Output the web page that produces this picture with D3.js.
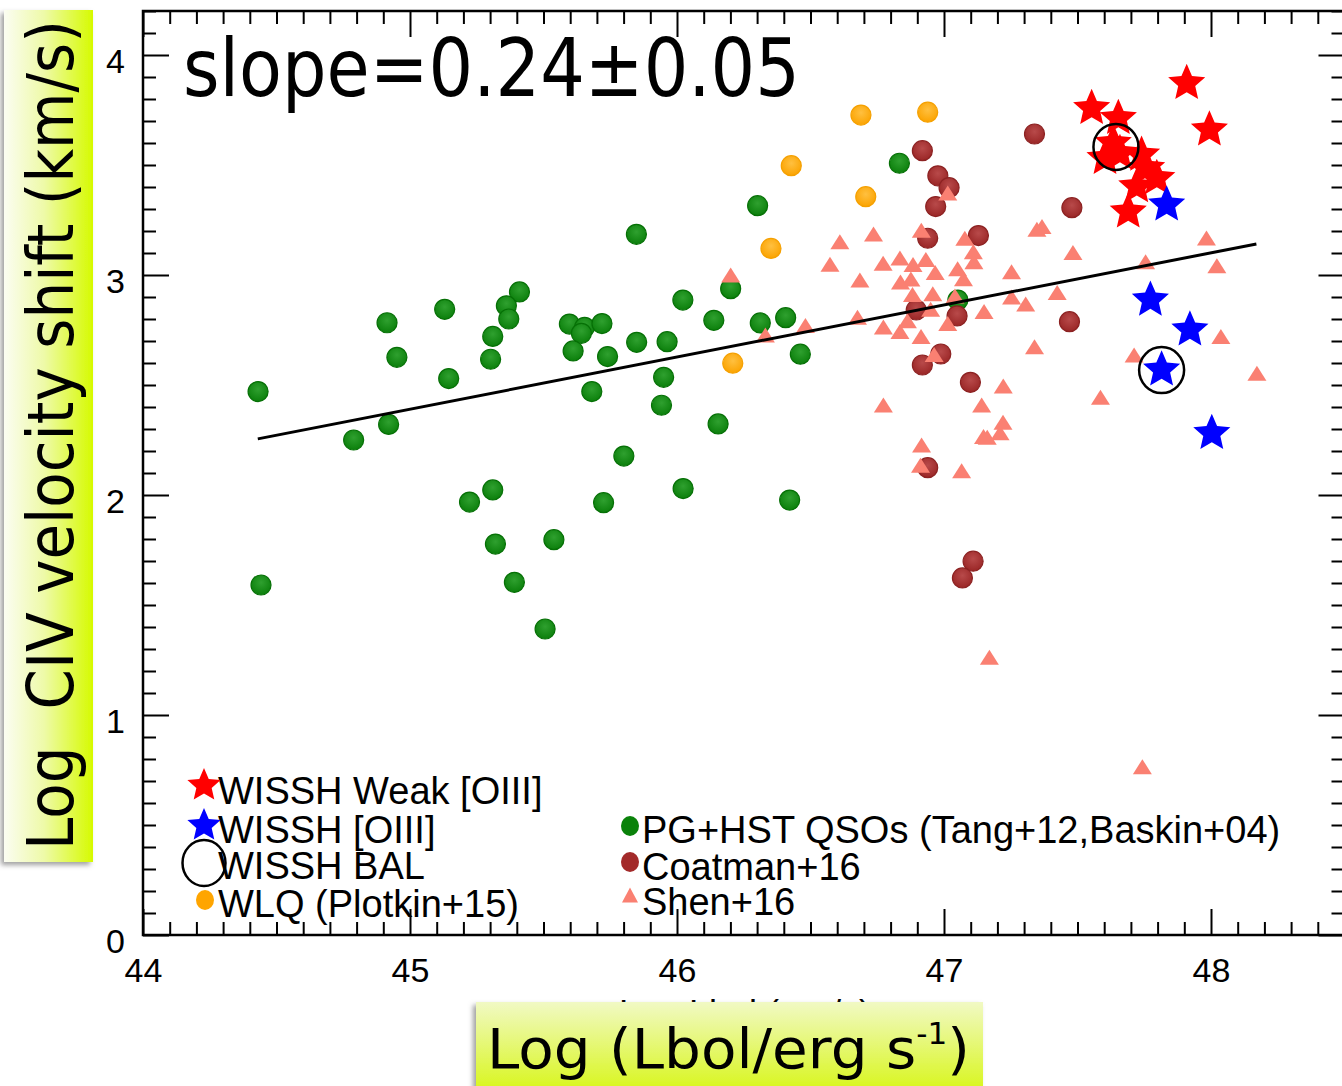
<!DOCTYPE html>
<html><head><meta charset="utf-8">
<script src="https://cdn.jsdelivr.net/npm/d3@7"></script>
<style>body{margin:0;background:#fff;} svg{display:block;}</style>
</head><body>
<svg id="c" width="1342" height="1086"></svg>
<script>
// ---------------- DATA ----------------
const xDomain = [44, 48.5];
const yDomain = [0, 4.2];
const xTickValues = [44, 45, 46, 47, 48];
const xTickLabels = ["44", "45", "46", "47", "48"];
const yTickValues = [0, 1, 2, 3, 4];
const yTickLabels = ["0", "1", "2", "3", "4"];

// PG+HST QSOs (Tang+12, Baskin+04)
const pgX = [45.848,45.410,45.361,45.370,45.130,44.914,44.951,45.310,45.302,45.145,44.431,46.022,45.597,45.654,45.642,45.719,45.611,45.740,45.849,45.963,45.950,45.681,45.942,44.920,44.789,45.801,46.023,45.310,45.223,45.725,45.539,45.320,45.391,44.442,45.506,46.833,46.302,46.201,46.138,46.312,46.407,46.462,47.052,46.154,46.422];
const pgY = [3.185,2.923,2.860,2.800,2.844,2.783,2.626,2.721,2.617,2.529,2.470,2.886,2.777,2.762,2.735,2.779,2.655,2.629,2.694,2.697,2.535,2.470,2.408,2.321,2.250,2.177,2.029,2.023,1.968,1.965,1.797,1.777,1.603,1.591,1.391,3.508,3.315,2.938,2.794,2.782,2.806,2.640,2.886,2.323,1.977];

// WLQ (Plotkin+15)
const wlqX = [46.689,46.939,46.428,46.707,46.352,46.209];
const wlqY = [3.727,3.740,3.497,3.356,3.121,2.599];

// Coatman+16
const coatX = [47.339,46.919,46.977,47.019,46.969,47.479,46.939,47.129,46.896,47.049,47.470,46.988,46.919,47.099,46.939,47.109,47.069];
const coatY = [3.641,3.565,3.451,3.397,3.311,3.306,3.167,3.179,2.841,2.814,2.788,2.641,2.591,2.512,2.124,1.699,1.623];

// Shen+16
const shenX = [46.201,46.331,46.481,46.573,46.610,46.676,46.685,46.736,46.772,46.773,46.773,46.835,46.837,46.835,46.863,46.876,46.884,46.882,46.915,46.914,46.916,46.912,46.932,46.950,46.958,46.963,46.967,47.014,47.014,47.041,47.051,47.066,47.073,47.078,47.110,47.112,47.141,47.148,47.162,47.150,47.170,47.210,47.222,47.221,47.253,47.253,47.306,47.339,47.348,47.367,47.424,47.483,47.586,47.712,47.743,47.755,47.983,48.022,48.037,48.172];
const shenY = [3.000,2.727,2.771,3.049,3.151,2.808,2.977,3.186,3.053,2.764,2.409,3.077,2.968,2.743,2.792,2.982,3.048,2.911,3.203,2.720,2.227,2.135,3.071,2.844,2.915,2.639,3.011,3.373,2.779,2.905,3.028,2.110,2.983,3.167,3.106,3.060,2.409,2.266,2.262,2.834,1.262,2.283,2.495,2.331,3.015,2.900,2.868,2.674,3.208,3.220,2.920,3.102,2.444,2.636,0.765,3.060,3.168,3.042,2.720,2.553];

// WISSH Weak [OIII]
const weakX = [47.909,47.994,47.553,47.653,47.634,47.659,47.603,47.740,47.759,47.797,47.722,47.690];
const weakY = [3.879,3.667,3.765,3.720,3.606,3.560,3.538,3.553,3.492,3.447,3.409,3.295];

// WISSH [OIII]
const oiiiX = [47.834,47.773,47.921,47.815,48.003];
const oiiiY = [3.326,2.894,2.758,2.576,2.288];

// WISSH BAL
const balX = [47.644,47.815];
const balY = [3.582,2.568];

// Linear fit
const fitX = [44.43, 48.17];
const fitY = [2.255, 3.141];
const slopeLabel = "slope=0.24\u00b10.05";

const legendLeft = ["WISSH Weak [OIII]", "WISSH [OIII]", "WISSH BAL", "WLQ (Plotkin+15)"];
const legendRight = ["PG+HST QSOs (Tang+12,Baskin+04)", "Coatman+16", "Shen+16"];

// ---------------- DRAW ----------------
const svg = d3.select('#c');
const X0 = 143, X1 = 1344.5, Y0 = 935, Y1 = 11;
const x = d3.scaleLinear().domain(xDomain).range([X0, X1]);
const y = d3.scaleLinear().domain(yDomain).range([Y0, Y1]);
const defs = svg.append('defs');

function glossy(id, light, base) {
  const g = defs.append('radialGradient').attr('id', id).attr('cx', '50%').attr('cy', '38%').attr('r', '62%');
  g.append('stop').attr('offset', '0%').attr('stop-color', light);
  g.append('stop').attr('offset', '100%').attr('stop-color', base);
}
glossy('gGreen', '#2fa02f', '#0b7f0b');
glossy('gBrown', '#b84a4a', '#9a2626');
glossy('gOrange', '#ffc040', '#fba300');

const sh = defs.append('filter').attr('id', 'shadow').attr('x', '-20%').attr('y', '-5%').attr('width', '140%').attr('height', '110%');
sh.append('feDropShadow').attr('dx', -3).attr('dy', 3).attr('stdDeviation', 2.5).attr('flood-color', '#777').attr('flood-opacity', 0.7);

const lgY = defs.append('linearGradient').attr('id', 'boxY').attr('x1', '0%').attr('x2', '100%').attr('y1', '0%').attr('y2', '0%');
lgY.append('stop').attr('offset', '0%').attr('stop-color', '#fbfdf2');
lgY.append('stop').attr('offset', '45%').attr('stop-color', '#eefaa8');
lgY.append('stop').attr('offset', '100%').attr('stop-color', '#d6fa00');
const lgX = defs.append('linearGradient').attr('id', 'boxX').attr('x1', '0%').attr('x2', '0%').attr('y1', '0%').attr('y2', '100%');
lgX.append('stop').attr('offset', '0%').attr('stop-color', '#f1f9c4');
lgX.append('stop').attr('offset', '100%').attr('stop-color', '#d8f61a');

// axes
const tickFont = '"Liberation Sans", Arial, Helvetica, sans-serif';
function minorVals(dom, step, majors) {
  const out = [];
  for (let v = dom[0]; v <= dom[1] + 1e-9; v += step) {
    const r = Math.round(v * 10) / 10;
    if (!majors.some(m => Math.abs(m - r) < 1e-6)) out.push(r);
  }
  return out;
}
const xMinor = minorVals(xDomain, 0.1, xTickValues);
const yMinor = minorVals(yDomain, 0.1, yTickValues);

function styleAxis(g) {
  g.select('.domain').remove();
  g.selectAll('.tick line').attr('stroke', '#000').attr('stroke-width', 2);
  g.selectAll('.tick text').attr('font-family', tickFont).attr('font-size', 34).attr('fill', '#000');
}
svg.append('g').attr('transform', `translate(0,${Y0})`)
  .call(d3.axisBottom(x).tickValues(xMinor).tickSize(-13).tickFormat(''))
  .call(styleAxis);
svg.append('g').attr('transform', `translate(0,${Y0})`)
  .call(d3.axisBottom(x).tickValues(xTickValues).tickSize(-26).tickPadding(23).tickFormat((d, i) => xTickLabels[i]))
  .call(styleAxis);
svg.append('g').attr('transform', `translate(0,${Y1})`)
  .call(d3.axisTop(x).tickValues(xMinor).tickSize(-13).tickFormat(''))
  .call(styleAxis);
svg.append('g').attr('transform', `translate(0,${Y1})`)
  .call(d3.axisTop(x).tickValues(xTickValues).tickSize(-26).tickFormat(''))
  .call(styleAxis);
svg.append('g').attr('transform', `translate(${X0},0)`)
  .call(d3.axisLeft(y).tickValues(yMinor).tickSize(-13).tickFormat(''))
  .call(styleAxis);
const yl = svg.append('g').attr('transform', `translate(${X0},0)`)
  .call(d3.axisLeft(y).tickValues(yTickValues).tickSize(-26).tickPadding(18).tickFormat((d, i) => yTickLabels[i]))
  .call(styleAxis);
yl.selectAll('.tick text').attr('dy', '0.5em');
svg.append('g').attr('transform', `translate(${X1},0)`)
  .call(d3.axisRight(y).tickValues(yMinor).tickSize(-13).tickFormat(''))
  .call(styleAxis);
svg.append('g').attr('transform', `translate(${X1},0)`)
  .call(d3.axisRight(y).tickValues(yTickValues).tickSize(-26).tickFormat(''))
  .call(styleAxis);

svg.append('rect').attr('x', X0).attr('y', Y1).attr('width', X1 - X0).attr('height', Y0 - Y1)
  .attr('fill', 'none').attr('stroke', '#000').attr('stroke-width', 2.5);

// markers
const plot = svg.append('g');
function circles(xs, ys, fill, stroke) {
  plot.append('g').selectAll('circle').data(xs.map((v, i) => [v, ys[i]])).join('circle')
    .attr('cx', d => x(d[0])).attr('cy', d => y(d[1])).attr('r', 10)
    .attr('fill', fill).attr('stroke', stroke).attr('stroke-width', 1.2);
}
circles(pgX, pgY, 'url(#gGreen)', '#067006');
circles(wlqX, wlqY, 'url(#gOrange)', '#f5a000');
circles(coatX, coatY, 'url(#gBrown)', '#8c2222');

const triPath = (w, h) => `M0,${-h}L${w},${h}L${-w},${h}Z`;
plot.append('g').selectAll('path').data(shenX.map((v, i) => [v, shenY[i]])).join('path')
  .attr('d', triPath(9.5, 7.5))
  .attr('transform', d => `translate(${x(d[0])},${y(d[1])})`)
  .attr('fill', '#fa8072');

// fit line
plot.append('path').datum(fitX.map((v, i) => [v, fitY[i]]))
  .attr('d', d3.line().x(d => x(d[0])).y(d => y(d[1])))
  .attr('stroke', '#000').attr('stroke-width', 3).attr('fill', 'none');

// fat five-pointed star (IDL-like)
function starPath(R) {
  const r = R * 0.46, pts = [];
  for (let k = 0; k < 10; k++) {
    const a = -Math.PI / 2 + k * Math.PI / 5;
    const rr = k % 2 ? r : R;
    pts.push([rr * Math.cos(a), rr * Math.sin(a) + R * 0.08]);
  }
  return 'M' + pts.map(p => p[0].toFixed(2) + ',' + p[1].toFixed(2)).join('L') + 'Z';
}
function stars(xs, ys, fill) {
  plot.append('g').selectAll('path').data(xs.map((v, i) => [v, ys[i]])).join('path')
    .attr('d', starPath(19.5))
    .attr('transform', d => `translate(${x(d[0])},${y(d[1])})`)
    .attr('fill', fill);
}
stars(weakX, weakY, '#ff0000');
stars(oiiiX, oiiiY, '#0000ff');

plot.append('g').selectAll('ellipse').data(balX.map((v, i) => [v, balY[i]])).join('ellipse')
  .attr('cx', d => x(d[0])).attr('cy', d => y(d[1])).attr('rx', 22.5).attr('ry', 23)
  .attr('fill', 'none').attr('stroke', '#000').attr('stroke-width', 2.5);

// slope label
const titleFont = '"DejaVu Sans", Verdana, sans-serif';
function fitWidth(sel, target) {
  const w = sel.node().getBBox().width;
  return target / w;
}
const slopeT = svg.append('text').attr('font-family', titleFont).attr('font-size', 80).attr('fill', '#000').text(slopeLabel);
const sS = fitWidth(slopeT, 617);
slopeT.attr('transform', `translate(183,96) scale(${sS},1)`);

// legend
const legFont = '"Liberation Sans", Arial, Helvetica, sans-serif';
const leg = svg.append('g');
const lRowsY = [804, 843, 879, 917];
const rRowsY = [843, 880, 915];
leg.selectAll('text.l').data(legendLeft).join('text').attr('class', 'l')
  .attr('x', 218).attr('y', (d, i) => lRowsY[i]).attr('font-family', legFont).attr('font-size', 38).text(d => d);
leg.selectAll('text.r').data(legendRight).join('text').attr('class', 'r')
  .attr('x', 642).attr('y', (d, i) => rRowsY[i]).attr('font-family', legFont).attr('font-size', 38).text(d => d);
leg.append('path').attr('d', starPath(17.5)).attr('transform', 'translate(204,784)').attr('fill', '#ff0000');
leg.append('path').attr('d', starPath(17.5)).attr('transform', 'translate(204,824)').attr('fill', '#0000ff');
leg.append('ellipse').attr('cx', 204).attr('cy', 863).attr('rx', 21.5).attr('ry', 23).attr('fill', 'none').attr('stroke', '#000').attr('stroke-width', 2.5);
leg.append('ellipse').attr('cx', 205).attr('cy', 900).attr('rx', 9).attr('ry', 10).attr('fill', '#ffa500');
leg.append('ellipse').attr('cx', 630).attr('cy', 826).attr('rx', 9).attr('ry', 10).attr('fill', '#0a820a');
leg.append('ellipse').attr('cx', 630).attr('cy', 862).attr('rx', 9).attr('ry', 10).attr('fill', '#a32a2a');
leg.append('path').attr('d', triPath(8, 7.5)).attr('transform', 'translate(630,895)').attr('fill', '#fa8072');

// original x label, mostly covered by the title box
svg.append('text').attr('x', 745).attr('y', 1026).attr('text-anchor', 'middle')
  .attr('font-family', legFont).attr('font-size', 36).text('Log Lbol (erg/s)');

// y title box
svg.append('rect').attr('x', 4).attr('y', 10).attr('width', 89).attr('height', 852)
  .attr('fill', 'url(#boxY)').attr('filter', 'url(#shadow)');
const yT = svg.append('text').attr('font-family', titleFont).attr('font-size', 64).attr('fill', '#000')
  .text('Log\u00a0 CIV velocity shift (km/s)');
const sY = fitWidth(yT, 830);
yT.attr('transform', `translate(73,850) rotate(-90) scale(${sY},1)`);

// x title box
svg.append('rect').attr('x', 476).attr('y', 1002).attr('width', 507).attr('height', 90)
  .attr('fill', 'url(#boxX)').attr('filter', 'url(#shadow)');
const xT = svg.append('text').attr('font-family', titleFont).attr('font-size', 56).attr('fill', '#000');
xT.append('tspan').text('Log (Lbol/erg s');
xT.append('tspan').attr('font-size', 30).attr('dy', -24).text('-1');
xT.append('tspan').attr('dy', 24).text(')');
const sX = fitWidth(xT, 483);
xT.attr('transform', `translate(487,1068) scale(${sX},1)`);
</script></body></html>
